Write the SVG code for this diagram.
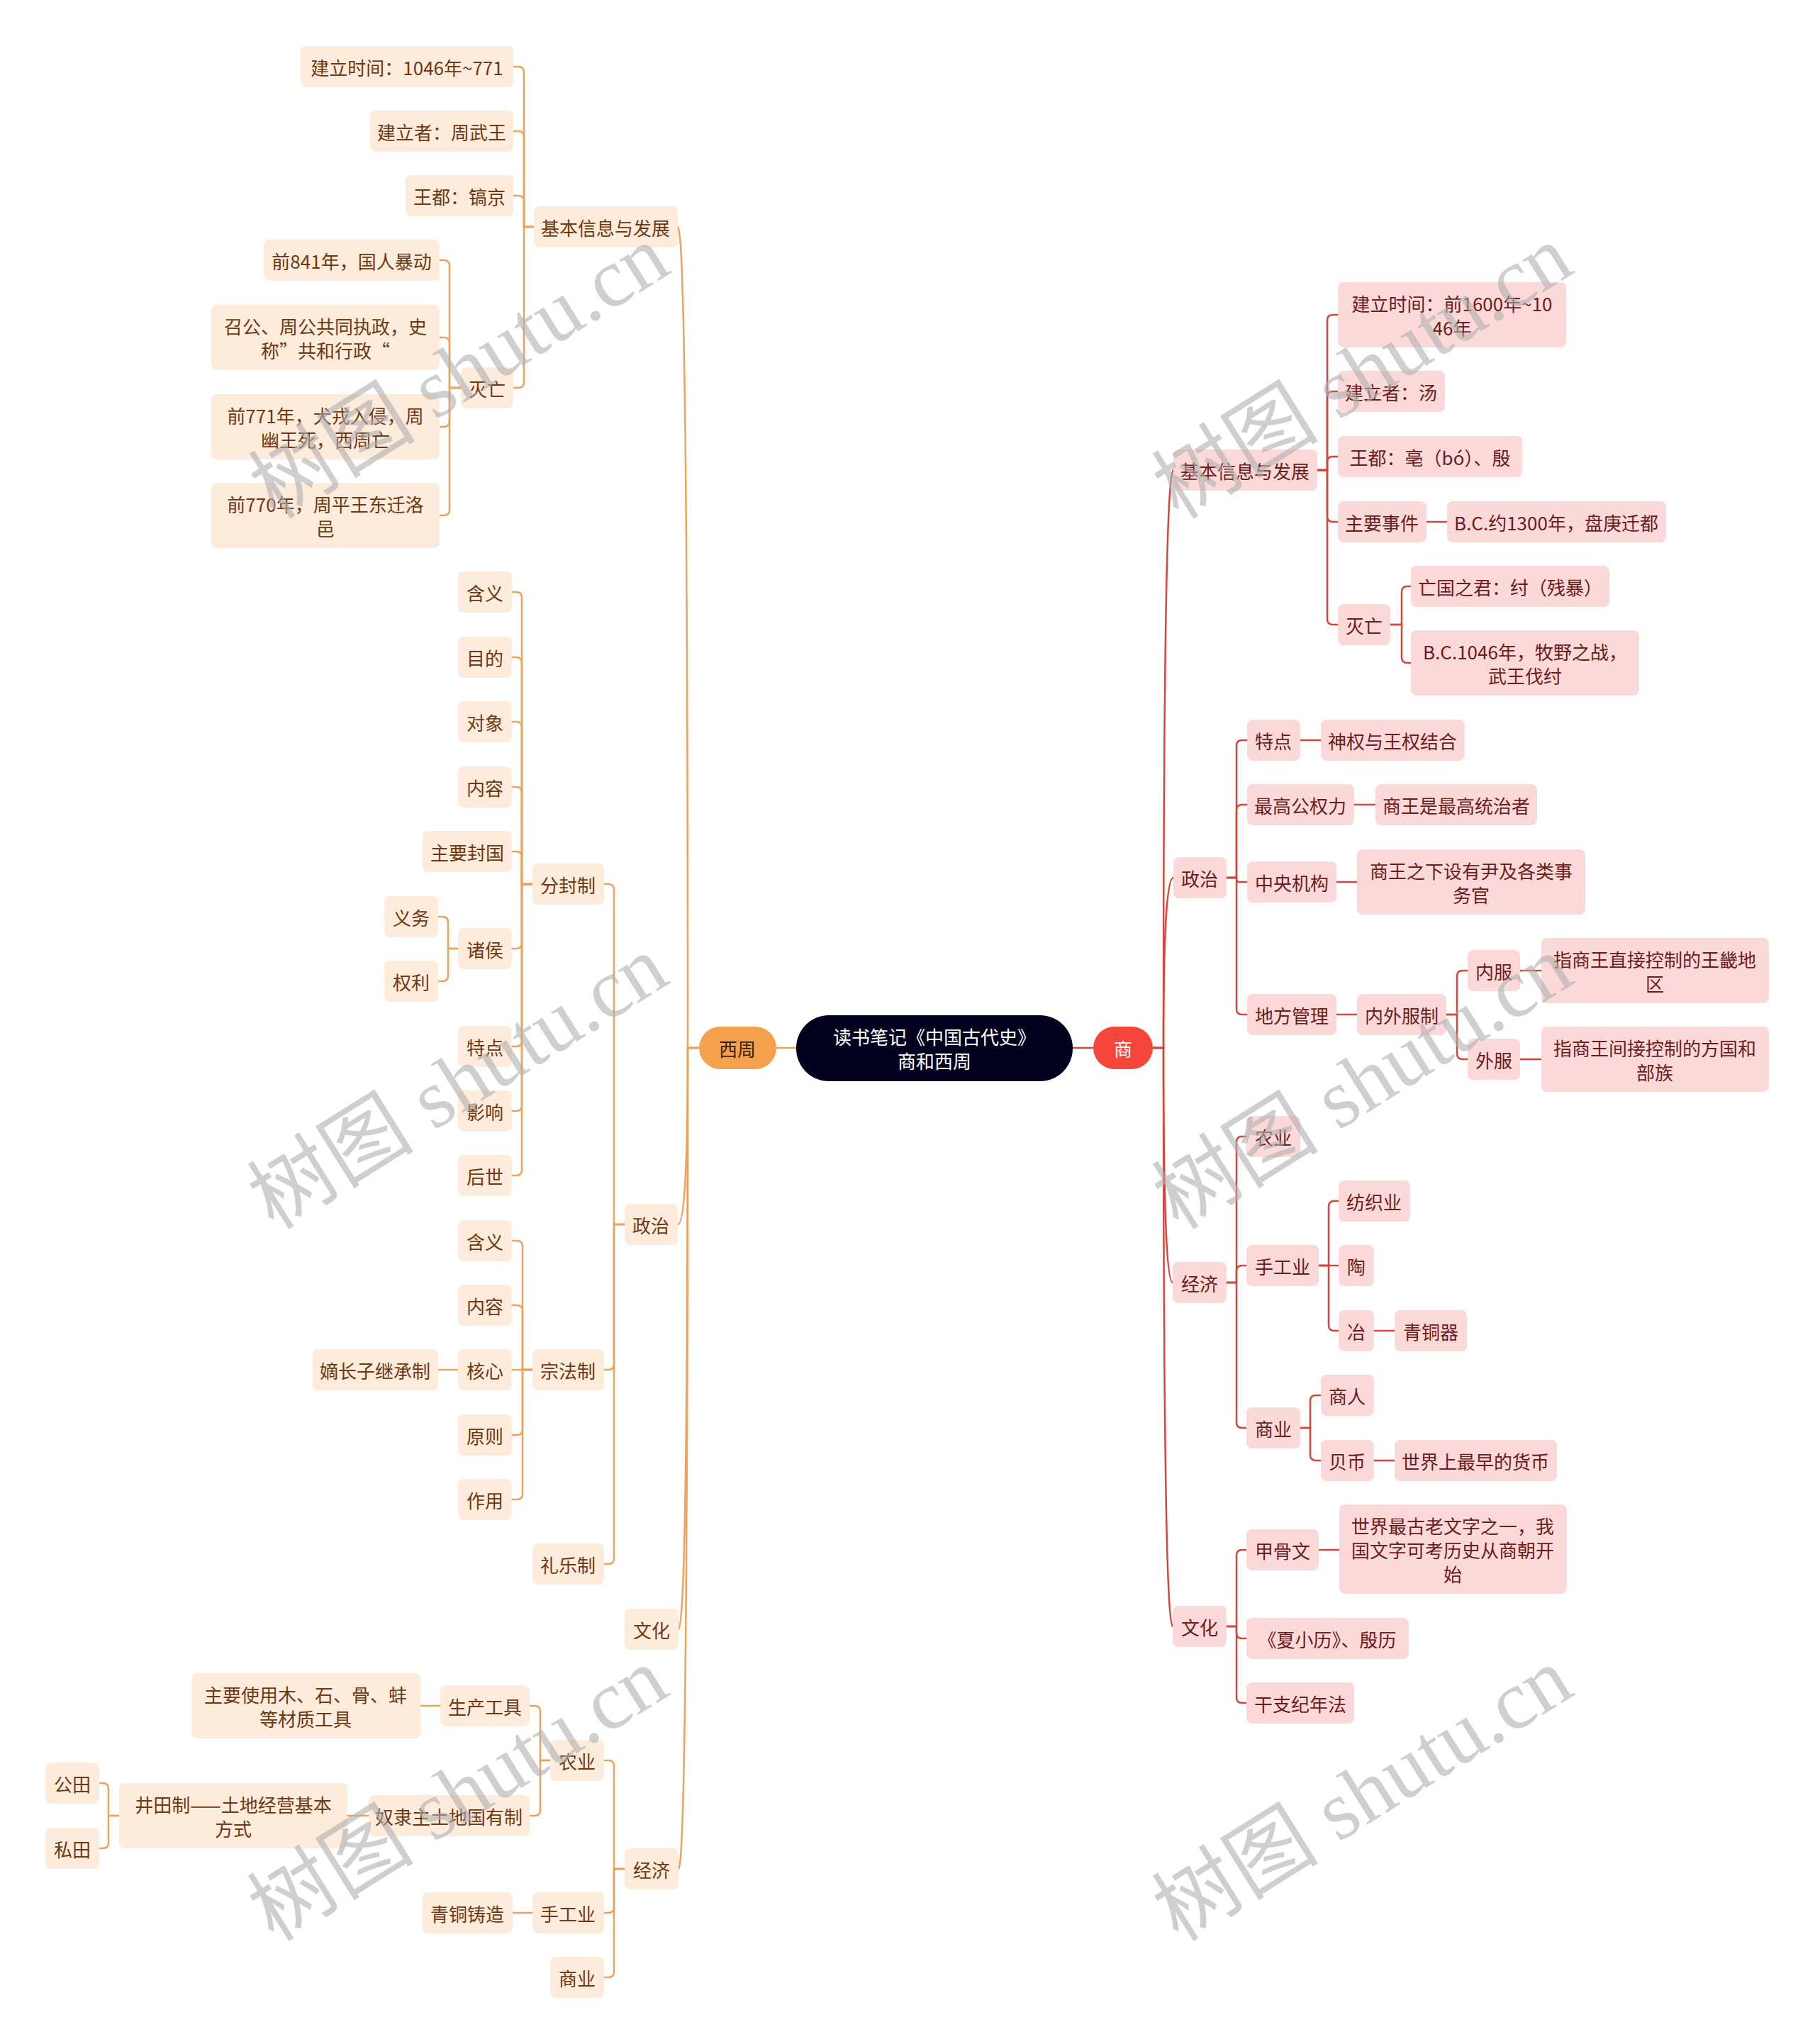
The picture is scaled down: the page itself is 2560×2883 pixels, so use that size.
<svg xmlns="http://www.w3.org/2000/svg" width="2560" height="2883" viewBox="0 0 2560 2883">
<style>
text{font-family:"Noto Sans CJK SC","Noto Sans",sans-serif;font-size:26px;text-anchor:middle;dominant-baseline:central}
.nl rect{fill:#fdebdb}
.nl text{fill:#6e3912}
.nr rect{fill:#fcd9d9}
.nr text{fill:#6b1c1c}
.lo{fill:none;stroke:#eba35e;stroke-width:2.5}
.lr{fill:none;stroke:#d4473d;stroke-width:2.5}
.wm{font-family:"Liberation Serif","Noto Sans CJK SC",serif;font-size:118px;fill:#b0b0b0;opacity:0.6;text-anchor:middle}
</style>
<rect width="2560" height="2883" fill="#ffffff"/>
<g id="connectors">
<g class="lo">
<path d="M1095 1478H1123"/>
<path d="M986 1478H970Q970 320 956 320"/>
<path d="M986 1478H970Q970 1727 956 1727"/>
<path d="M986 1478H970Q970 2298 957 2298"/>
<path d="M986 1478H970Q970 2636 957 2636"/>
<path d="M753 320H739V102Q739 94 731 94H724"/>
<path d="M753 320H739V193Q739 185 731 185H724"/>
<path d="M753 320H739V284Q739 276 731 276H724"/>
<path d="M753 320H739V539Q739 547 731 547H724"/>
<path d="M650 547H634V375Q634 367 626 367H620"/>
<path d="M650 547H634V484Q634 476 626 476H620"/>
<path d="M650 547H634V594Q634 602 626 602H620"/>
<path d="M650 547H634V719Q634 727 626 727H620"/>
<path d="M751 1247H736V843Q736 835 728 835H722"/>
<path d="M751 1247H736V935Q736 927 728 927H722"/>
<path d="M751 1247H736V1026Q736 1018 728 1018H722"/>
<path d="M751 1247H736V1118Q736 1110 728 1110H722"/>
<path d="M751 1247H736V1209Q736 1201 728 1201H722"/>
<path d="M751 1247H736V1330Q736 1338 728 1338H722"/>
<path d="M751 1247H736V1468Q736 1476 728 1476H722"/>
<path d="M751 1247H736V1559Q736 1567 728 1567H722"/>
<path d="M751 1247H736V1650Q736 1658 728 1658H722"/>
<path d="M646 1338H632V1301Q632 1293 624 1293H618"/>
<path d="M646 1338H632V1376Q632 1384 624 1384H618"/>
<path d="M881 1727H866V1255Q866 1247 858 1247H852"/>
<path d="M881 1727H866V1924Q866 1932 858 1932H852"/>
<path d="M881 1727H866V2198Q866 2206 858 2206H852"/>
<path d="M751 1932H737V1758Q737 1750 729 1750H722"/>
<path d="M751 1932H737V1849Q737 1841 729 1841H722"/>
<path d="M751 1932H722"/>
<path d="M751 1932H737V2016Q737 2024 729 2024H722"/>
<path d="M751 1932H737V2107Q737 2115 729 2115H722"/>
<path d="M646 1932H618"/>
<path d="M881 2636H866V2491Q866 2483 858 2483H852"/>
<path d="M881 2636H866V2690Q866 2698 858 2698H852"/>
<path d="M881 2636H866V2781Q866 2789 858 2789H852"/>
<path d="M776 2483H762V2414Q762 2406 754 2406H747"/>
<path d="M776 2483H762V2553Q762 2561 754 2561H747"/>
<path d="M621 2406H593"/>
<path d="M520 2561H490"/>
<path d="M168 2561H153V2523Q153 2515 145 2515H140"/>
<path d="M168 2561H153V2599Q153 2607 145 2607H140"/>
<path d="M751 2698H723"/>
</g>
<g class="lr">
<path d="M1513 1478H1542"/>
<path d="M1626 1478H1641Q1641 663 1655 663"/>
<path d="M1626 1478H1641Q1641 1238 1655 1238"/>
<path d="M1626 1478H1641Q1641 1809 1654 1809"/>
<path d="M1626 1478H1641Q1641 2294 1654 2294"/>
<path d="M1858 663H1872V452Q1872 444 1880 444H1887"/>
<path d="M1858 663H1872V560Q1872 552 1880 552H1887"/>
<path d="M1858 663H1872V652Q1872 644 1880 644H1887"/>
<path d="M1858 663H1872V728Q1872 736 1880 736H1887"/>
<path d="M1858 663H1872V873Q1872 881 1880 881H1887"/>
<path d="M2012 736H2041"/>
<path d="M1961 881H1977V835Q1977 827 1985 827H1990"/>
<path d="M1961 881H1977V927Q1977 935 1985 935H1990"/>
<path d="M1730 1238H1744V1052Q1744 1044 1752 1044H1759"/>
<path d="M1730 1238H1744V1143Q1744 1135 1752 1135H1759"/>
<path d="M1730 1238H1744V1240Q1744 1244 1748 1244H1759"/>
<path d="M1730 1238H1744V1423Q1744 1431 1752 1431H1759"/>
<path d="M1834 1044H1863"/>
<path d="M1910 1135H1940"/>
<path d="M1885 1244H1914"/>
<path d="M1885 1431H1914"/>
<path d="M2040 1431H2055V1377Q2055 1369 2063 1369H2070"/>
<path d="M2040 1431H2055V1486Q2055 1494 2063 1494H2070"/>
<path d="M2144 1369H2174"/>
<path d="M2144 1494H2174"/>
<path d="M1730 1809H1744V1611Q1744 1603 1752 1603H1758"/>
<path d="M1730 1809H1744V1793Q1744 1785 1752 1785H1758"/>
<path d="M1730 1809H1744V2006Q1744 2014 1752 2014H1758"/>
<path d="M1860 1785H1874V1702Q1874 1694 1882 1694H1888"/>
<path d="M1860 1785H1888"/>
<path d="M1860 1785H1874V1869Q1874 1877 1882 1877H1888"/>
<path d="M1938 1877H1967"/>
<path d="M1834 2014H1848V1976Q1848 1968 1856 1968H1863"/>
<path d="M1834 2014H1848V2052Q1848 2060 1856 2060H1863"/>
<path d="M1938 2060H1967"/>
<path d="M1730 2294H1744V2194Q1744 2186 1752 2186H1758"/>
<path d="M1730 2294H1744V2303Q1744 2311 1752 2311H1758"/>
<path d="M1730 2294H1744V2394Q1744 2402 1752 2402H1758"/>
<path d="M1860 2186H1889"/>
</g>
</g>

<g id="root"><rect x="1123" y="1432" width="390" height="93" rx="46" fill="#02021f"/><text x="1318" y="1461" fill="#ffffff">读书笔记《中国古代史》</text><text x="1318" y="1495" fill="#ffffff">商和西周</text></g>
<g id="xizhou"><rect x="986" y="1448" width="109" height="60" rx="30" fill="#f5a04c"/><text x="1040" y="1478" fill="#33210f">西周</text></g>
<g id="shang"><rect x="1542" y="1448" width="84" height="60" rx="30" fill="#f6463b"/><text x="1584" y="1478" fill="#ffffff">商</text></g>

<g class="nl">
<g id="l-jb"><rect x="753" y="291" width="203" height="58" rx="8"/><text x="854" y="320">基本信息与发展</text></g>
<g id="l-jb1"><rect x="424" y="65" width="300" height="58" rx="8"/><text x="574" y="94">建立时间：1046年~771</text></g>
<g id="l-jb2"><rect x="522" y="156" width="202" height="58" rx="8"/><text x="623" y="185">建立者：周武王</text></g>
<g id="l-jb3"><rect x="572" y="247" width="152" height="58" rx="8"/><text x="648" y="276">王都：镐京</text></g>
<g id="l-mw"><rect x="650" y="518" width="74" height="58" rx="8"/><text x="687" y="547">灭亡</text></g>
<g id="l-mw1"><rect x="372" y="338" width="248" height="58" rx="8"/><text x="496" y="367">前841年，国人暴动</text></g>
<g id="l-mw2"><rect x="298" y="430" width="322" height="92" rx="8"/><text x="459" y="459">召公、周公共同执政，史</text><text x="459" y="493">称”共和行政“</text></g>
<g id="l-mw3"><rect x="298" y="556" width="322" height="92" rx="8"/><text x="459" y="585">前771年，犬戎入侵，周</text><text x="459" y="619">幽王死，西周亡</text></g>
<g id="l-mw4"><rect x="298" y="681" width="322" height="92" rx="8"/><text x="459" y="710">前770年，周平王东迁洛</text><text x="459" y="744">邑</text></g>
<g id="l-zz"><rect x="881" y="1698" width="75" height="58" rx="8"/><text x="918" y="1727">政治</text></g>
<g id="l-ffz"><rect x="751" y="1218" width="101" height="58" rx="8"/><text x="801" y="1247">分封制</text></g>
<g id="l-ff1"><rect x="646" y="806" width="76" height="58" rx="8"/><text x="684" y="835">含义</text></g>
<g id="l-ff2"><rect x="646" y="898" width="76" height="58" rx="8"/><text x="684" y="927">目的</text></g>
<g id="l-ff3"><rect x="646" y="989" width="76" height="58" rx="8"/><text x="684" y="1018">对象</text></g>
<g id="l-ff4"><rect x="646" y="1081" width="76" height="58" rx="8"/><text x="684" y="1110">内容</text></g>
<g id="l-ff5"><rect x="596" y="1172" width="126" height="58" rx="8"/><text x="659" y="1201">主要封国</text></g>
<g id="l-ff6"><rect x="646" y="1309" width="76" height="58" rx="8"/><text x="684" y="1338">诸侯</text></g>
<g id="l-ff6a"><rect x="542" y="1264" width="76" height="58" rx="8"/><text x="580" y="1293">义务</text></g>
<g id="l-ff6b"><rect x="542" y="1355" width="76" height="58" rx="8"/><text x="580" y="1384">权利</text></g>
<g id="l-ff7"><rect x="646" y="1447" width="76" height="58" rx="8"/><text x="684" y="1476">特点</text></g>
<g id="l-ff8"><rect x="646" y="1538" width="76" height="58" rx="8"/><text x="684" y="1567">影响</text></g>
<g id="l-ff9"><rect x="646" y="1629" width="76" height="58" rx="8"/><text x="684" y="1658">后世</text></g>
<g id="l-zfz"><rect x="751" y="1903" width="101" height="58" rx="8"/><text x="801" y="1932">宗法制</text></g>
<g id="l-zf1"><rect x="646" y="1721" width="76" height="58" rx="8"/><text x="684" y="1750">含义</text></g>
<g id="l-zf2"><rect x="646" y="1812" width="76" height="58" rx="8"/><text x="684" y="1841">内容</text></g>
<g id="l-zf3"><rect x="646" y="1903" width="76" height="58" rx="8"/><text x="684" y="1932">核心</text></g>
<g id="l-zf3a"><rect x="441" y="1903" width="177" height="58" rx="8"/><text x="529" y="1932">嫡长子继承制</text></g>
<g id="l-zf4"><rect x="646" y="1995" width="76" height="58" rx="8"/><text x="684" y="2024">原则</text></g>
<g id="l-zf5"><rect x="646" y="2086" width="76" height="58" rx="8"/><text x="684" y="2115">作用</text></g>
<g id="l-lyz"><rect x="751" y="2177" width="101" height="58" rx="8"/><text x="801" y="2206">礼乐制</text></g>
<g id="l-wh"><rect x="881" y="2269" width="76" height="58" rx="8"/><text x="919" y="2298">文化</text></g>
<g id="l-jj"><rect x="881" y="2607" width="76" height="58" rx="8"/><text x="919" y="2636">经济</text></g>
<g id="l-ny"><rect x="776" y="2454" width="76" height="58" rx="8"/><text x="814" y="2483">农业</text></g>
<g id="l-scgj"><rect x="621" y="2377" width="126" height="58" rx="8"/><text x="684" y="2406">生产工具</text></g>
<g id="l-scgj1"><rect x="270" y="2360" width="323" height="92" rx="8"/><text x="431" y="2389">主要使用木、石、骨、蚌</text><text x="431" y="2423">等材质工具</text></g>
<g id="l-nl"><rect x="520" y="2532" width="227" height="58" rx="8"/><text x="633" y="2561">奴隶主土地国有制</text></g>
<g id="l-jt"><rect x="168" y="2515" width="322" height="92" rx="8"/><text x="329" y="2544">井田制——土地经营基本</text><text x="329" y="2578">方式</text></g>
<g id="l-gt"><rect x="64" y="2486" width="76" height="58" rx="8"/><text x="102" y="2515">公田</text></g>
<g id="l-st"><rect x="64" y="2578" width="76" height="58" rx="8"/><text x="102" y="2607">私田</text></g>
<g id="l-sgy"><rect x="751" y="2669" width="101" height="58" rx="8"/><text x="801" y="2698">手工业</text></g>
<g id="l-qtzz"><rect x="596" y="2669" width="127" height="58" rx="8"/><text x="659" y="2698">青铜铸造</text></g>
<g id="l-sy"><rect x="776" y="2760" width="76" height="58" rx="8"/><text x="814" y="2789">商业</text></g>
</g>

<g class="nr">
<g id="r-jb"><rect x="1655" y="634" width="203" height="58" rx="8"/><text x="1756" y="663">基本信息与发展</text></g>
<g id="r-jb1"><rect x="1887" y="398" width="322" height="92" rx="8"/><text x="2048" y="427">建立时间：前1600年~10</text><text x="2048" y="461">46年</text></g>
<g id="r-jb2"><rect x="1887" y="523" width="151" height="58" rx="8"/><text x="1962" y="552">建立者：汤</text></g>
<g id="r-jb3"><rect x="1887" y="615" width="260" height="58" rx="8"/><text x="2017" y="644">王都：亳（bó）、殷</text></g>
<g id="r-jb4"><rect x="1887" y="707" width="125" height="58" rx="8"/><text x="1949" y="736">主要事件</text></g>
<g id="r-jb4a"><rect x="2041" y="707" width="309" height="58" rx="8"/><text x="2195" y="736">B.C.约1300年，盘庚迁都</text></g>
<g id="r-mw"><rect x="1887" y="852" width="74" height="58" rx="8"/><text x="1924" y="881">灭亡</text></g>
<g id="r-mw1"><rect x="1990" y="798" width="280" height="58" rx="8"/><text x="2130" y="827">亡国之君：纣（残暴）</text></g>
<g id="r-mw2"><rect x="1990" y="889" width="322" height="92" rx="8"/><text x="2151" y="918">B.C.1046年，牧野之战，</text><text x="2151" y="952">武王伐纣</text></g>
<g id="r-zz"><rect x="1655" y="1209" width="75" height="58" rx="8"/><text x="1692" y="1238">政治</text></g>
<g id="r-zz1"><rect x="1759" y="1015" width="75" height="58" rx="8"/><text x="1796" y="1044">特点</text></g>
<g id="r-zz1a"><rect x="1863" y="1015" width="203" height="58" rx="8"/><text x="1964" y="1044">神权与王权结合</text></g>
<g id="r-zz2"><rect x="1759" y="1106" width="151" height="58" rx="8"/><text x="1834" y="1135">最高公权力</text></g>
<g id="r-zz2a"><rect x="1940" y="1106" width="228" height="58" rx="8"/><text x="2054" y="1135">商王是最高统治者</text></g>
<g id="r-zz3"><rect x="1759" y="1215" width="126" height="58" rx="8"/><text x="1822" y="1244">中央机构</text></g>
<g id="r-zz3a"><rect x="1914" y="1198" width="322" height="92" rx="8"/><text x="2075" y="1227">商王之下设有尹及各类事</text><text x="2075" y="1261">务官</text></g>
<g id="r-zz4"><rect x="1759" y="1402" width="126" height="58" rx="8"/><text x="1822" y="1431">地方管理</text></g>
<g id="r-zz4a"><rect x="1914" y="1402" width="126" height="58" rx="8"/><text x="1977" y="1431">内外服制</text></g>
<g id="r-nf"><rect x="2070" y="1340" width="74" height="58" rx="8"/><text x="2107" y="1369">内服</text></g>
<g id="r-nf1"><rect x="2174" y="1323" width="321" height="92" rx="8"/><text x="2334" y="1352">指商王直接控制的王畿地</text><text x="2334" y="1386">区</text></g>
<g id="r-wf"><rect x="2070" y="1465" width="74" height="58" rx="8"/><text x="2107" y="1494">外服</text></g>
<g id="r-wf1"><rect x="2174" y="1448" width="321" height="92" rx="8"/><text x="2334" y="1477">指商王间接控制的方国和</text><text x="2334" y="1511">部族</text></g>
<g id="r-jj"><rect x="1654" y="1780" width="76" height="58" rx="8"/><text x="1692" y="1809">经济</text></g>
<g id="r-ny"><rect x="1758" y="1574" width="76" height="58" rx="8"/><text x="1796" y="1603">农业</text></g>
<g id="r-sgy"><rect x="1758" y="1756" width="102" height="58" rx="8"/><text x="1809" y="1785">手工业</text></g>
<g id="r-fzy"><rect x="1888" y="1665" width="101" height="58" rx="8"/><text x="1938" y="1694">纺织业</text></g>
<g id="r-tao"><rect x="1888" y="1756" width="50" height="58" rx="8"/><text x="1913" y="1785">陶</text></g>
<g id="r-ye"><rect x="1888" y="1848" width="50" height="58" rx="8"/><text x="1913" y="1877">冶</text></g>
<g id="r-qtq"><rect x="1967" y="1848" width="102" height="58" rx="8"/><text x="2018" y="1877">青铜器</text></g>
<g id="r-sy"><rect x="1758" y="1985" width="76" height="58" rx="8"/><text x="1796" y="2014">商业</text></g>
<g id="r-sr"><rect x="1863" y="1939" width="75" height="58" rx="8"/><text x="1900" y="1968">商人</text></g>
<g id="r-bb"><rect x="1863" y="2031" width="75" height="58" rx="8"/><text x="1900" y="2060">贝币</text></g>
<g id="r-bb1"><rect x="1967" y="2031" width="229" height="58" rx="8"/><text x="2081" y="2060">世界上最早的货币</text></g>
<g id="r-wh"><rect x="1654" y="2265" width="76" height="58" rx="8"/><text x="1692" y="2294">文化</text></g>
<g id="r-jgw"><rect x="1758" y="2157" width="102" height="58" rx="8"/><text x="1809" y="2186">甲骨文</text></g>
<g id="r-jgw1"><rect x="1889" y="2122" width="321" height="126" rx="8"/><text x="2049" y="2151">世界最古老文字之一，我</text><text x="2049" y="2185">国文字可考历史从商朝开</text><text x="2049" y="2219">始</text></g>
<g id="r-xxl"><rect x="1758" y="2282" width="229" height="58" rx="8"/><text x="1872" y="2311">《夏小历》、殷历</text></g>
<g id="r-gz"><rect x="1758" y="2373" width="152" height="58" rx="8"/><text x="1834" y="2402">干支纪年法</text></g>
</g>

<g id="watermarks">
<text class="wm" transform="translate(648 525) rotate(-32)">树图 shutu.cn</text>
<text class="wm" transform="translate(646 1527) rotate(-32)">树图 shutu.cn</text>
<text class="wm" transform="translate(646 2531) rotate(-32)">树图 shutu.cn</text>
<text class="wm" transform="translate(1922 525) rotate(-32)">树图 shutu.cn</text>
<text class="wm" transform="translate(1922 1527) rotate(-32)">树图 shutu.cn</text>
<text class="wm" transform="translate(1922 2531) rotate(-32)">树图 shutu.cn</text>
</g>
</svg>
